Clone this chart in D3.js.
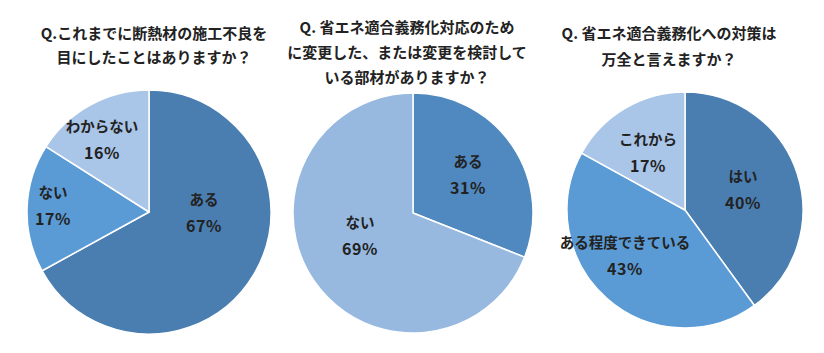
<!DOCTYPE html>
<html><head><meta charset="utf-8">
<script src="https://cdn.jsdelivr.net/npm/d3@7"></script>
<style>
html,body{margin:0;padding:0;background:#fff;}
svg{display:block;}
text{font-family:"Noto Sans CJK JP","Noto Sans",sans-serif;font-weight:bold;fill:#222;}
</style></head>
<body>
<svg id="c" width="824" height="353"></svg>
<script>
// Data
const q1Title = ["Q.これまでに断熱材の施工不良を", "目にしたことはありますか？"];
const q1Categories = ["ある", "ない", "わからない"];
const q1Values = [67, 17, 16];

const q2Title = ["Q. 省エネ適合義務化対応のため", "に変更した、または変更を検討して", "いる部材がありますか？"];
const q2Categories = ["ある", "ない"];
const q2Values = [31, 69];

const q3Title = ["Q. 省エネ適合義務化への対策は", "万全と言えますか？"];
const q3Categories = ["はい", "ある程度できている", "これから"];
const q3Values = [40, 43, 17];

// Layout (positions & styles)
const pies = [
  {title:q1Title, cats:q1Categories, vals:q1Values, cx:149, cy:212, r:122, tx:154, ty:[39,63],
   colors:["#4a7eb1","#5b9bd5","#a9c5e8"], labels:[[55,-7],[-96,-14],[-47,-80]]},
  {title:q2Title, cats:q2Categories, vals:q2Values, cx:413, cy:213, r:120, tx:407, ty:[33,58,83],
   colors:["#4f89bf","#97b9e0"], labels:[[55,-46],[-53,15]]},
  {title:q3Title, cats:q3Categories, vals:q3Values, cx:685, cy:210, r:118, tx:669, ty:[39,65],
   colors:["#4a7eb1","#5b9bd5","#a9c5e8"], labels:[[58,-28],[-60,38],[-37,-65]]}
];

const svg = d3.select("#c");
const fs = 15, lfs = 14.5, lh = 27;

pies.forEach(p => {
  const g = svg.append("g").attr("transform", `translate(${p.cx},${p.cy})`);
  const pie = d3.pie().sort(null).value(d => d)(p.vals);
  const arc = d3.arc().innerRadius(0).outerRadius(p.r);
  g.selectAll("path").data(pie).join("path")
    .attr("d", arc)
    .attr("fill", (d,i) => p.colors[i])
    .attr("stroke", "#fff").attr("stroke-width", 1.5).attr("stroke-linejoin","round");

  const lg = g.selectAll("g.lab").data(pie).join("g").attr("class","lab")
    .attr("transform", (d,i) => `translate(${p.labels[i][0]},${p.labels[i][1]})`);
  lg.append("text").attr("text-anchor","middle").attr("font-size",lfs)
    .attr("y", 0).text((d,i) => p.cats[i]);
  lg.append("text").attr("text-anchor","middle").attr("font-size",16)
    .attr("letter-spacing", 0.5)
    .attr("y", lh).text(d => d.data + "%");

  svg.append("g").selectAll("text").data(p.title).join("text")
    .attr("x", p.tx).attr("y", (d,i) => p.ty[i])
    .attr("text-anchor","middle").attr("font-size",fs).text(d => d);
});
</script>
</body></html>
